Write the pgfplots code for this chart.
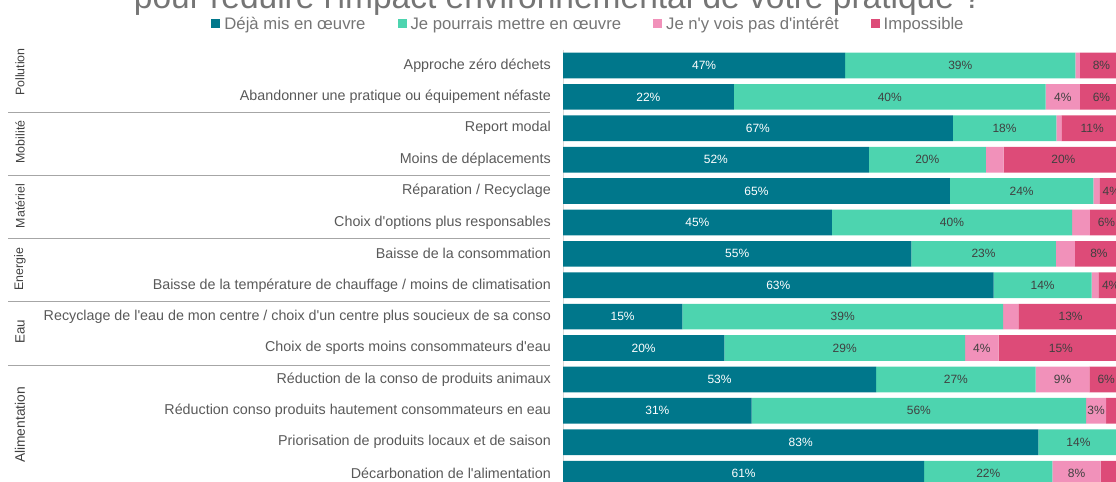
\documentclass[border=0pt]{standalone}
\usepackage{fontspec}
\setmainfont{Liberation Sans}
\usepackage{pgfplots}
\usepackage{pgfplotstable}
\pgfplotsset{compat=1.18}
\definecolor{cA}{HTML}{00778B}
\definecolor{cB}{HTML}{4DD4AF}
\definecolor{cC}{HTML}{F191BA}
\definecolor{cD}{HTML}{DD4B78}
\definecolor{lbl}{HTML}{595959}
\definecolor{leg}{HTML}{757575}
\definecolor{dark}{HTML}{404040}
\definecolor{sepc}{HTML}{A6A6A6}
\definecolor{axl}{HTML}{D9D9D9}
\newcommand\ap{\textquotesingle}

% widths of the segments (share of each bar) and the printed percentages
\pgfplotstableread{
y a b c d la lb lc ld
1 50.4 41.1 0.8 7.7 47 39 0 8
2 30.5 55.7 6.1 7.7 22 40 4 6
3 69.6 18.5 0.9 11.0 67 18 0 11
4 54.6 20.9 3.2 21.3 52 20 0 20
5 69.1 25.6 1.1 4.2 65 24 0 4
6 48.0 42.9 3.2 5.9 45 40 0 6
7 62.2 25.8 3.4 8.6 55 23 0 8
8 76.9 17.5 1.2 4.4 63 14 0 4
9 21.3 57.3 2.7 18.7 15 39 0 13
10 28.8 43.0 6.0 22.2 20 29 4 15
11 55.9 28.5 9.6 6.0 53 27 9 6
12 33.7 59.7 3.6 3.0 31 56 3 0
13 84.9 14.3 0.4 0.4 83 14 0 0
14 64.5 22.9 8.6 4.0 61 22 8 0
}\data

\begin{document}
\begin{tikzpicture}
\useasboundingbox (0,0) rectangle (1116bp,-482bp);
\clip (0,0) rectangle (1116bp,-482bp);
\node[anchor=base, font=\fontsize{33.5bp}{40bp}\selectfont, text=leg, inner sep=0pt] at (558bp,-8bp) {pour réduire l\ap impact environnemental de votre pratique ?};

% group separators and group names
\foreach \yy in {112.6,175.4,238.1,300.9,365}{
  \draw[sepc, line width=0.75bp] (8bp,-\yy bp) -- (550bp,-\yy bp);
}
\begin{scope}[every node/.style={rotate=90, anchor=center, inner sep=0pt, text=dark}]
\node[font=\fontsize{12.4bp}{14bp}\selectfont] at (20bp,-72bp) {Pollution};
\node[font=\fontsize{12.4bp}{14bp}\selectfont] at (20bp,-142bp) {Mobilité};
\node[font=\fontsize{12.4bp}{14bp}\selectfont] at (20bp,-206bp) {Matériel};
\node[font=\fontsize{12.4bp}{14bp}\selectfont] at (20bp,-269bp) {Energie};
\node[font=\fontsize{13.4bp}{15bp}\selectfont] at (20bp,-332bp) {Eau};
\node[font=\fontsize{13.8bp}{15bp}\selectfont] at (20bp,-425bp) {Alimentation};
\end{scope}

\begin{axis}[
  at={(563bp,-49.8bp)}, anchor=north west,
  scale only axis, width=560bp, height=439.5bp,
  xmin=0, xmax=100, ymin=0.5, ymax=14.5, y dir=reverse,
  xbar stacked, bar width=25.7bp,
  axis x line=none, axis y line*=left,
  axis line style={axl, line width=0.75bp},
  ytick={1,...,14}, major tick length=0pt,
  yticklabels={{Approche zéro déchets},{Abandonner une pratique ou équipement néfaste},{Report modal},{Moins de déplacements},{Réparation / Recyclage},{Choix d\ap options plus responsables},{Baisse de la consommation},{Baisse de la température de chauffage / moins de climatisation},{Recyclage de l\ap eau de mon centre / choix d\ap un centre plus soucieux de sa conso},{Choix de sports moins consommateurs d\ap eau},{Réduction de la conso de produits animaux},{Réduction conso produits hautement consommateurs en eau},{Priorisation de produits locaux et de saison},{Décarbonation de l\ap alimentation}},
  yticklabel style={font=\fontsize{14.3bp}{16bp}\selectfont, text=lbl, inner sep=0pt, xshift=-12bp},
  legend columns=4,
  legend style={at={(0.04375,1.059)}, anchor=center, draw=none, fill=none, inner sep=0pt,
    font=\fontsize{16.7bp}{19bp}\selectfont, text=leg,
    /tikz/every odd column/.append style={column sep=4bp},
    /tikz/every even column/.append style={column sep=32bp},
    nodes={inner sep=0pt}},
  legend image code/.code={\fill (0bp,-4.5bp) rectangle (9bp,4.5bp);},
  clip=false,
]
\addplot[fill=cA, draw=none] table[x=a, y=y]{\data};
\addplot[fill=cB, draw=none] table[x=b, y=y]{\data};
\addplot[fill=cC, draw=none] table[x=c, y=y]{\data};
\addplot[fill=cD, draw=none] table[x=d, y=y]{\data};
\legend{Déjà mis en œuvre, Je pourrais mettre en œuvre, Je n\ap y vois pas d\ap intérêt, Impossible}
\end{axis}

\begin{axis}[
  at={(563bp,-49.8bp)}, anchor=north west,
  scale only axis, width=560bp, height=439.5bp,
  xmin=0, xmax=100, ymin=0.5, ymax=14.5, y dir=reverse,
  hide axis, clip=false,
  point meta=explicit,
  /pgf/number format/assume math mode=true,
  nodes near coords={\pgfmathfloatifflags{\pgfplotspointmeta}{0}{}{\pgfmathprintnumber{\pgfplotspointmeta}\%}},
  every node near coord/.append style={anchor=center, font=\fontsize{12bp}{14bp}\selectfont, inner sep=0pt},
]
\addplot[only marks, mark=text, text mark={}, nodes near coords style={text=white}]
  table[x expr=\thisrow{a}/2, y=y, meta=la]{\data};
\addplot[only marks, mark=text, text mark={}, nodes near coords style={text=dark}]
  table[x expr=\thisrow{a}+\thisrow{b}/2, y=y, meta=lb]{\data};
\addplot[only marks, mark=text, text mark={}, nodes near coords style={text=dark}]
  table[x expr=\thisrow{a}+\thisrow{b}+\thisrow{c}/2, y=y, meta=lc]{\data};
\addplot[only marks, mark=text, text mark={}, nodes near coords style={text=dark}]
  table[x expr=\thisrow{a}+\thisrow{b}+\thisrow{c}+\thisrow{d}/2, y=y, meta=ld]{\data};
\end{axis}
\end{tikzpicture}
\end{document}
